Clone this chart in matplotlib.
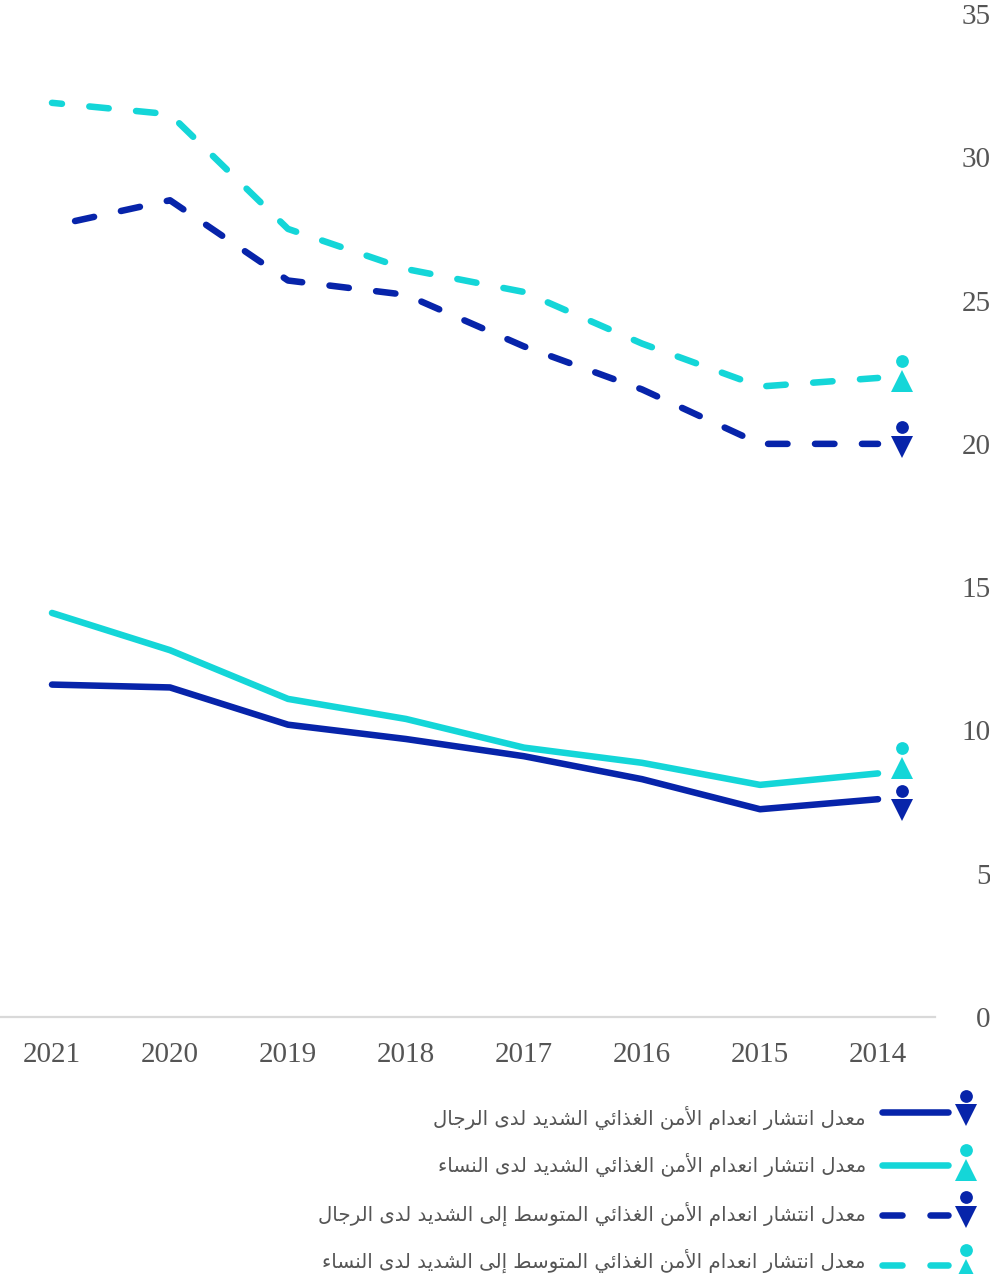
import matplotlib
matplotlib.use("Agg")
import matplotlib.pyplot as plt
from matplotlib.transforms import offset_copy

years = ["2021", "2020", "2019", "2018", "2017", "2016", "2015", "2014"]
severe_men = [11.6, 11.5, 10.2, 9.7, 9.1, 8.3, 7.25, 7.6]
severe_women = [14.1, 12.8, 11.1, 10.4, 9.4, 8.87, 8.1, 8.5]
modsev_men = [27.6, 28.5, 25.7, 25.2, 23.4, 21.9, 20.0, 20.0]
modsev_women = [31.9, 31.5, 27.5, 26.1, 25.3, 23.5, 22.0, 22.3]
yticks = [0, 5, 10, 15, 20, 25, 30, 35]
labels = [
    "معدل انتشار انعدام الأمن الغذائي الشديد لدى الرجال",
    "معدل انتشار انعدام الأمن الغذائي الشديد لدى النساء",
    "معدل انتشار انعدام الأمن الغذائي المتوسط إلى الشديد لدى الرجال",
    "معدل انتشار انعدام الأمن الغذائي المتوسط إلى الشديد لدى النساء",
]

NAVY = "#0724aa"
CYAN = "#14d6d8"
GREY = "#555555"
plt.rcParams["lines.scale_dashes"] = False

# Minimal Arabic shaping: matplotlib does not join or reorder Arabic itself.
FORMS = {
    "ء": (0xFE80,), "أ": (0xFE83, 0xFE84), "إ": (0xFE87, 0xFE88), "ا": (0xFE8D, 0xFE8E),
    "ئ": (0xFE89, 0xFE8A, 0xFE8B, 0xFE8C), "ت": (0xFE95, 0xFE96, 0xFE97, 0xFE98),
    "ج": (0xFE9D, 0xFE9E, 0xFE9F, 0xFEA0), "د": (0xFEA9, 0xFEAA), "ذ": (0xFEAB, 0xFEAC),
    "ر": (0xFEAD, 0xFEAE), "س": (0xFEB1, 0xFEB2, 0xFEB3, 0xFEB4),
    "ش": (0xFEB5, 0xFEB6, 0xFEB7, 0xFEB8), "ط": (0xFEC1, 0xFEC2, 0xFEC3, 0xFEC4),
    "ع": (0xFEC9, 0xFECA, 0xFECB, 0xFECC), "غ": (0xFECD, 0xFECE, 0xFECF, 0xFED0),
    "ل": (0xFEDD, 0xFEDE, 0xFEDF, 0xFEE0), "م": (0xFEE1, 0xFEE2, 0xFEE3, 0xFEE4),
    "ن": (0xFEE5, 0xFEE6, 0xFEE7, 0xFEE8), "و": (0xFEED, 0xFEEE),
    "ى": (0xFEEF, 0xFEF0), "ي": (0xFEF1, 0xFEF2, 0xFEF3, 0xFEF4),
}
LIGA = {"أ": (0xFEF7, 0xFEF8), "إ": (0xFEF9, 0xFEFA), "ا": (0xFEFB, 0xFEFC)}


def shape(text):
    out = []
    i = 0
    prev_joins = False
    while i < len(text):
        c = text[i]
        if c not in FORMS:
            out.append(c)
            prev_joins = False
            i += 1
            continue
        if c == "ل" and i + 1 < len(text) and text[i + 1] in LIGA:
            out.append(chr(LIGA[text[i + 1]][1 if prev_joins else 0]))
            prev_joins = False
            i += 2
            continue
        f = FORMS[c]
        nxt = text[i + 1] if i + 1 < len(text) else " "
        next_ok = len(f) == 4 and nxt in FORMS
        if len(f) == 1:
            g = f[0]
        elif prev_joins and next_ok:
            g = f[3]
        elif prev_joins:
            g = f[1]
        elif next_ok:
            g = f[2]
        else:
            g = f[0]
        out.append(chr(g))
        prev_joins = next_ok
        i += 1
    return "".join(reversed(out))


W, H = 990, 1274
fig = plt.figure(figsize=(W / 100, H / 100), dpi=100, facecolor="white")
X0, X1, Y0, Y35 = 0, 935, 1017, 14
ax = fig.add_axes([X0 / W, (H - Y0) / H, (X1 - X0) / W, (Y0 - Y35) / H])
step = 118.0
first = 52.0
xs = list(range(len(years)))
ax.set_xlim(-first / step, (X1 - first) / step)
ax.set_ylim(0, 35)
for s in ("top", "left", "right"):
    ax.spines[s].set_visible(False)
ax.spines["bottom"].set_color("#d9d9d9")
ax.spines["bottom"].set_linewidth(1.6)
ax.patch.set_alpha(0)

LW = 4.7
ON, OFF = 14.0, 19.8
common = dict(lw=LW, solid_capstyle="round", dash_capstyle="round", clip_on=False)
ax.plot(xs, severe_men, color=NAVY, **common)
ax.plot(xs, severe_women, color=CYAN, **common)
ax.plot(xs, modsev_men, color=NAVY, ls=(16.8, (ON, OFF)), **common)
ax.plot(xs, modsev_women, color=CYAN, ls=(6.8, (ON, OFF)), **common)

ax.set_xticks(xs, years)
ax.set_yticks(yticks)
ax.yaxis.tick_right()
ax.tick_params(axis="x", length=0, pad=18, labelsize=21, labelcolor=GREY)
ax.tick_params(axis="y", length=0, pad=40, labelsize=21, labelcolor=GREY)
for t in ax.get_xticklabels() + ax.get_yticklabels():
    t.set_family("Liberation Serif")
for t in ax.get_yticklabels():
    t.set_horizontalalignment("right")

# End-of-line person markers beside the 2014 values (pixel offsets, + is down).
mx = len(years) - 1 + 24 / step
end_markers = [
    (severe_men[-1], NAVY, "v", 11, -8),
    (severe_women[-1], CYAN, "^", -5, -25),
    (modsev_men[-1], NAVY, "v", 3, -17),
    (modsev_women[-1], CYAN, "^", 3, -17),
]
MS_TRI, MS_HEAD = 15.5, 9.2
for v, c, m, d_tri, d_head in end_markers:
    t_tri = offset_copy(ax.transData, fig=fig, x=0, y=-d_tri, units="dots")
    t_head = offset_copy(ax.transData, fig=fig, x=0, y=-d_head, units="dots")
    ax.plot([mx], [v], marker=m, ms=MS_TRI, color=c, mew=0, ls="none", clip_on=False, transform=t_tri)
    ax.plot([mx], [v], marker="o", ms=MS_HEAD, color=c, mew=0, ls="none", clip_on=False, transform=t_head)

# Legend, in a pixel-coordinate overlay.
lg = fig.add_axes([0, 0, 1, 1])
lg.set_xlim(0, W)
lg.set_ylim(H, 0)
lg.axis("off")
rows = [
    (1112, NAVY, False, "v", 1115, 1096, 1118, labels[0]),
    (1165, CYAN, False, "^", 1170, 1150, 1165, labels[1]),
    (1215, NAVY, True, "v", 1217, 1197, 1214, labels[2]),
    (1265, CYAN, True, "^", 1270, 1250, 1261, labels[3]),
]
for y, c, dashed, tri, ty, hy, txt_y, lab in rows:
    if dashed:
        lg.plot([882, 902], [y, y], color=c, lw=LW, solid_capstyle="round")
        lg.plot([930, 948], [y, y], color=c, lw=LW, solid_capstyle="round")
    else:
        lg.plot([882, 948], [y, y], color=c, lw=LW, solid_capstyle="round")
    lg.plot([966], [ty], marker=tri, ms=MS_TRI, color=c, mew=0, ls="none", clip_on=True)
    lg.plot([966], [hy], marker="o", ms=MS_HEAD, color=c, mew=0, ls="none", clip_on=True)
    lg.text(866, txt_y, shape(lab), ha="right", va="center", fontsize=14.2, color=GREY,
            family=["DejaVu Sans"])

fig.savefig("out.png", dpi=100, facecolor="white")
